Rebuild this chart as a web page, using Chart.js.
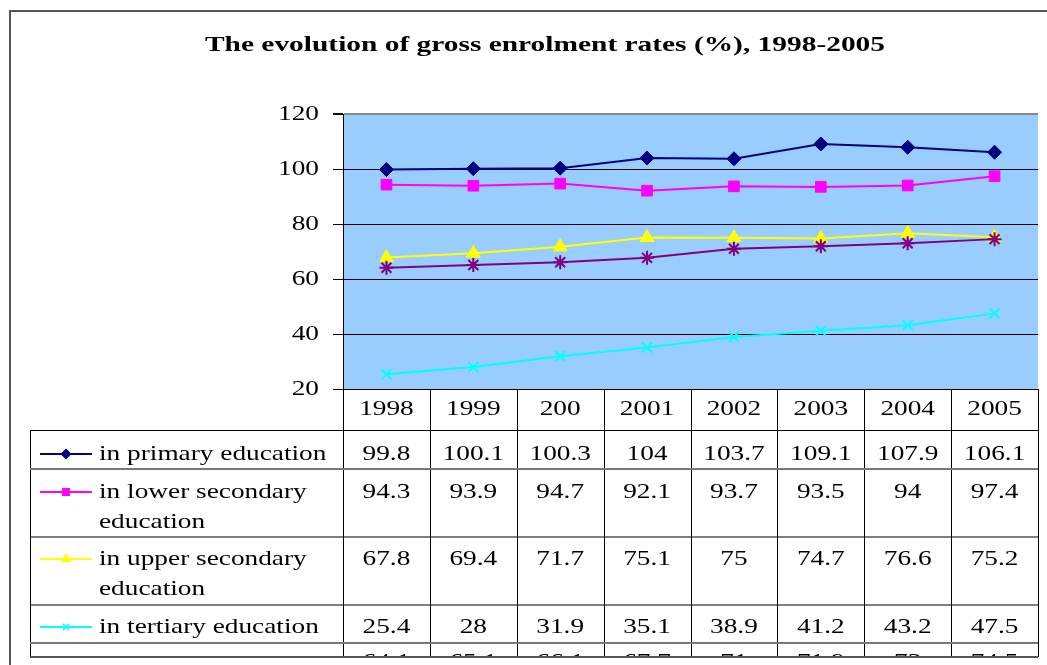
<!DOCTYPE html>
<html>
<head>
<meta charset="utf-8">
<script src="https://cdn.jsdelivr.net/npm/chart.js@4/dist/chart.umd.min.js"></script>
<style>
  html, body { margin: 0; padding: 0; background: #fff; }
</style>
</head>
<body>
<canvas id="c" width="1047" height="665"></canvas>
<script>
// ── DATA ───────────────────────────────────────────────────────
const years      = ['1998', '1999', '200', '2001', '2002', '2003', '2004', '2005'];
const primary    = [99.8, 100.1, 100.3, 104, 103.7, 109.1, 107.9, 106.1];
const lowerSec   = [94.3, 93.9, 94.7, 92.1, 93.7, 93.5, 94, 97.4];
const upperSec   = [67.8, 69.4, 71.7, 75.1, 75, 74.7, 76.6, 75.2];
const tertiary   = [25.4, 28, 31.9, 35.1, 38.9, 41.2, 43.2, 47.5];
const fifthRow   = [64.1, 65.1, 66.1, 67.7, 71, 71.9, 73, 74.5];   // row cut off in the source
const yTicks     = [20, 40, 60, 80, 100, 120];
const titleText  = 'The evolution of gross enrolment rates (%), 1998-2005';
const rowLabels  = [
  ['in primary education'],
  ['in lower secondary', 'education'],
  ['in upper secondary', 'education'],
  ['in tertiary education'],
  ['']
];

// ── STYLE / LAYOUT ─────────────────────────────────────────────
const serif = '"Liberation Serif", "Times New Roman", serif';
const sx = 1.3;                         // the source text is stretched sideways
const colors = ['#000080', '#ff00ff', '#ffff00', '#00ffff', '#800080'];
const styles = ['rectRot', 'rect', 'triangle', 'crossRot', 'star'];
const radii  = [7, 7.5, 8, 7, 7];
// table rows: [top, bottom, first text line y, line colour of bottom rule]
const rows = [
  [430, 469, 454, '#777'],
  [469, 537, 492, '#000'],
  [537, 605, 559, '#000'],
  [605, 643, 627, '#777'],
  [643, 657, 662.5, '#555']
];
const lineGap = 30;

function sText(ctx, str, x, y, align, font, scale) {
  ctx.save();
  ctx.font = font;
  ctx.translate(x, y);
  ctx.scale(scale, 1);
  ctx.textAlign = align;
  ctx.textBaseline = 'middle';
  ctx.fillStyle = '#000';
  ctx.fillText(str, 0, 0);
  ctx.restore();
}

function marker(ctx, i, x, y, r) {
  ctx.save();
  ctx.fillStyle = colors[i];
  ctx.strokeStyle = colors[i];
  ctx.lineWidth = 1.5;
  Chart.helpers.drawPoint(ctx, { pointStyle: styles[i], radius: r, rotation: 0, borderWidth: 1.5 }, x, y);
  ctx.restore();
}

// ── PLUGIN: plot background, frame, title, axis labels, data table ─
const excelLook = {
  id: 'excelLook',
  beforeDraw(chart) {
    const { ctx, chartArea: a } = chart;
    ctx.save();
    ctx.fillStyle = '#99ccff';
    ctx.fillRect(a.left, a.top, a.right - a.left, a.bottom - a.top);
    ctx.restore();
  },
  afterDraw(chart) {
    const { ctx, chartArea: a } = chart;
    const xs = chart.scales.x, ys = chart.scales.y;
    const tableFont = '21px ' + serif;

    // outer frame
    ctx.save();
    ctx.strokeStyle = '#555';
    ctx.lineWidth = 2;
    ctx.beginPath();
    ctx.moveTo(10, 665); ctx.lineTo(10, 11); ctx.lineTo(1047, 11);
    ctx.stroke();
    ctx.restore();

    // title
    ctx.save();
    ctx.font = 'bold 21px ' + serif;
    const tw = ctx.measureText(titleText).width;
    ctx.restore();
    sText(ctx, titleText, 545, 46, 'center', 'bold 21px ' + serif, 680 / tw);

    // y tick labels
    yTicks.forEach(v => sText(ctx, String(v), 319, ys.getPixelForValue(v), 'right', tableFont, sx));

    // table grid
    const colW = (a.right - a.left) / years.length;
    ctx.save();
    ctx.lineWidth = 1;
    ctx.strokeStyle = '#000';
    for (let k = 0; k <= years.length; k++) {
      const x = Math.round(a.left + k * colW) + 0.5;
      ctx.beginPath(); ctx.moveTo(x, a.bottom); ctx.lineTo(x, 657); ctx.stroke();
    }
    ctx.beginPath(); ctx.moveTo(30.5, 430); ctx.lineTo(30.5, 657); ctx.stroke();
    ctx.beginPath(); ctx.moveTo(30, 430.5); ctx.lineTo(a.right, 430.5); ctx.stroke();
    rows.forEach(r => {
      ctx.strokeStyle = r[3];
      ctx.lineWidth = r[3] === '#000' ? 1 : 2;
      ctx.beginPath(); ctx.moveTo(30, r[1]); ctx.lineTo(a.right, r[1]); ctx.stroke();
    });
    ctx.restore();

    // header row (years)
    years.forEach((yr, i) => sText(ctx, yr, xs.getPixelForValue(i), 409, 'center', tableFont, sx));

    // data rows
    chart.data.datasets.forEach((ds, i) => {
      const r = rows[i];
      ctx.save();
      ctx.beginPath();
      ctx.rect(0, r[0], 1047, r[1] - r[0] - 1);
      ctx.clip();
      // legend key
      ctx.save();
      ctx.strokeStyle = colors[i];
      ctx.lineWidth = 2;
      ctx.beginPath(); ctx.moveTo(40, r[2]); ctx.lineTo(92, r[2]); ctx.stroke();
      ctx.restore();
      marker(ctx, i, 66, r[2], 4.5);
      rowLabels[i].forEach((t, j) => sText(ctx, t, 99, r[2] + j * lineGap, 'left', tableFont, sx));
      ds.data.forEach((v, k) => sText(ctx, String(v), xs.getPixelForValue(k), r[2], 'center', tableFont, sx));
      ctx.restore();
    });
  }
};

// ── CHART ──────────────────────────────────────────────────────
const seriesData = [primary, lowerSec, upperSec, tertiary, fifthRow];
const datasets = seriesData.map((d, i) => ({
  label: rowLabels[i].join(' '),
  data: d,
  borderColor: colors[i],
  backgroundColor: colors[i],
  borderWidth: 2,
  tension: 0,
  pointStyle: styles[i],
  pointRadius: radii[i],
  pointHoverRadius: radii[i],
  pointBackgroundColor: colors[i],
  pointBorderColor: colors[i],
  pointBorderWidth: i >= 3 ? 2 : 1
}));
// draw the purple series below the yellow one, as in the source
const order = [0, 1, 4, 2, 3];
datasets.forEach((d, i) => { d.order = order.indexOf(i); });

new Chart(document.getElementById('c'), {
  type: 'line',
  data: { labels: years, datasets },
  options: {
    responsive: false,
    animation: false,
    events: [],
    layout: { padding: { top: 114, bottom: 276, left: 0, right: 2 } },
    plugins: { legend: { display: false }, title: { display: false }, tooltip: { enabled: false } },
    scales: {
      x: { type: 'category', offset: true, display: false },
      y: {
        min: 20, max: 120,
        ticks: { stepSize: 20, display: false },
        grid: {
          color: c => c.tick && c.tick.value === 120 ? '#888' : '#000',
          lineWidth: c => c.tick && c.tick.value === 120 ? 2 : 1,
          drawTicks: true,
          tickLength: 10,
          tickColor: '#000'
        },
        border: { display: true, color: '#000', width: 1 },
        afterFit: s => { s.width = 343; }
      }
    }
  },
  plugins: [excelLook]
});
</script>
</body>
</html>
